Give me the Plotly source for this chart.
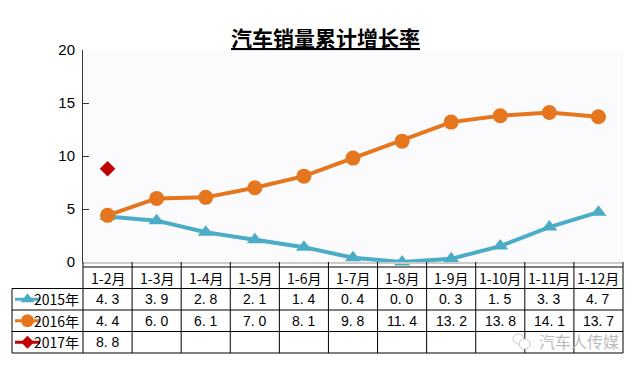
import plotly.graph_objects as go

categories = ["1-2月", "1-3月", "1-4月", "1-5月", "1-6月", "1-7月", "1-8月", "1-9月", "1-10月", "1-11月", "1-12月"]
series_names = ["2015年", "2016年", "2017年"]
s2015 = [4.3, 3.9, 2.8, 2.1, 1.4, 0.4, 0.0, 0.3, 1.5, 3.3, 4.7]
s2016 = [4.4, 6.0, 6.1, 7.0, 8.1, 9.8, 11.4, 13.2, 13.8, 14.1, 13.7]
s2017 = [8.8]
y_ticks = [0, 5, 10, 15, 20]
title = "汽车销量累计增长率"
watermark = "汽车人传媒"

W, H = 640, 369
PX_L, PX_R = 83, 623
PX_TOP, PX_ZERO = 50, 262
TAB_TOP, ROW_H = 267, 21.5
LEG_L = 12

colors = ["#4BACC6", "#E5761E", "#C00000"]
symbols = ["triangle-up", "circle", "diamond"]
msizes = [14, 15, 12]
all_series = [s2015, s2016, s2017]

fig = go.Figure()

header_bottom = TAB_TOP + ROW_H
for i, (c, sym, ms) in enumerate(zip(colors, symbols, msizes)):
    yc = header_bottom + ROW_H * (i + 0.5)
    fig.add_trace(go.Scatter(
        x=[15, 40], y=[yc, yc], mode="lines", line=dict(color=c, width=3),
        xaxis="x2", yaxis="y2", showlegend=False, hoverinfo="skip"))
    fig.add_trace(go.Scatter(
        x=[27.5], y=[yc], mode="markers", marker=dict(symbol=sym, size=ms - 2, color=c),
        xaxis="x2", yaxis="y2", showlegend=False, hoverinfo="skip"))

for name, vals, c, sym, ms in zip(series_names, all_series, colors, symbols, msizes):
    fig.add_trace(go.Scatter(
        x=categories[:len(vals)], y=vals, name=name,
        mode="lines+markers" if len(vals) > 1 else "markers",
        line=dict(color=c, width=4),
        marker=dict(symbol=sym, size=ms, color=c),
        showlegend=False, cliponaxis=False,
    ))

n = len(categories)
col_w = (PX_R - PX_L) / n
table_bottom = header_bottom + ROW_H * len(series_names)
shapes = []
shapes.append(dict(type="rect", xref="paper", yref="paper", x0=PX_L / W, x1=PX_R / W,
                   y0=(H - PX_ZERO) / H, y1=(H - PX_TOP) / H,
                   fillcolor="#FBFBFD", line=dict(width=0), layer="below"))
line_style = dict(color="#000000", width=1)
shapes.append(dict(type="line", xref="x2", yref="y2", x0=PX_L, x1=PX_R, y0=TAB_TOP, y1=TAB_TOP, line=line_style))
for r in range(len(series_names) + 1):
    yy = header_bottom + ROW_H * r
    shapes.append(dict(type="line", xref="x2", yref="y2", x0=LEG_L, x1=PX_R, y0=yy, y1=yy, line=line_style))
for k in range(n + 1):
    xx = PX_L + col_w * k
    shapes.append(dict(type="line", xref="x2", yref="y2", x0=xx, x1=xx, y0=PX_ZERO, y1=table_bottom, line=line_style))
shapes.append(dict(type="line", xref="x2", yref="y2", x0=LEG_L, x1=LEG_L, y0=header_bottom, y1=table_bottom, line=line_style))
# watermark icon (two small speech bubbles)
shapes.append(dict(type="circle", xref="x2", yref="y2", x0=513, x1=524, y0=334, y1=344,
                   line=dict(color="#C8C8C8", width=1)))
shapes.append(dict(type="circle", xref="x2", yref="y2", x0=519, x1=530, y0=339, y1=349,
                   line=dict(color="#C8C8C8", width=1), fillcolor="white"))

annotations = []
annotations.append(dict(text="<b><u>" + title + "</u></b>", xref="x2", yref="y2", x=325, y=37,
                        showarrow=False, font=dict(family="Noto Sans CJK SC", size=21, color="#000000")))
for k, cat in enumerate(categories):
    annotations.append(dict(text=cat, xref="x2", yref="y2", x=PX_L + col_w * (k + 0.5),
                            y=TAB_TOP + ROW_H / 2, showarrow=False,
                            font=dict(family="Noto Sans CJK SC", size=14, color="#000000")))
for i, (name, vals) in enumerate(zip(series_names, all_series)):
    yc = header_bottom + ROW_H * (i + 0.5)
    annotations.append(dict(text=name, xref="x2", yref="y2", x=81, y=yc, xanchor="right",
                            showarrow=False, font=dict(family="Noto Sans CJK SC", size=14, color="#000000")))
    for k, v in enumerate(vals):
        annotations.append(dict(text=f"{v:.1f}".replace(".", ". "), xref="x2", yref="y2",
                                x=PX_L + col_w * (k + 0.5), y=yc, showarrow=False,
                                font=dict(family="Liberation Sans", size=14, color="#000000")))
annotations.append(dict(text=watermark, xref="x2", yref="y2", x=621, y=341, xanchor="right",
                        showarrow=False, font=dict(family="Noto Sans CJK SC", size=16, color="#BBBBBB")))

fig.update_layout(
    width=W, height=H, margin=dict(l=0, r=0, t=0, b=0, pad=0, autoexpand=False), autosize=False,
    paper_bgcolor="white", plot_bgcolor="rgba(0,0,0,0)", showlegend=False,
    xaxis=dict(domain=[PX_L / W, PX_R / W], type="category", range=[-0.5, n - 0.5],
               showticklabels=False, showgrid=False, zeroline=False,
               showline=True, linecolor="#CCCCCC", linewidth=2, ticks=""),
    yaxis=dict(domain=[(H - PX_ZERO) / H, (H - PX_TOP) / H], range=[0, 20],
               tickvals=y_ticks, showgrid=False, zeroline=False,
               showline=True, linecolor="#333333", linewidth=1,
               ticks="inside", ticklen=6, tickcolor="#333333",
               tickfont=dict(family="Liberation Sans", size=15, color="#000000"), ticklabelstandoff=4),
    xaxis2=dict(domain=[0, 1], range=[0, W], visible=False, fixedrange=True, anchor="y2"),
    yaxis2=dict(domain=[0, 1], range=[H, 0], visible=False, fixedrange=True, anchor="x2"),
    shapes=shapes, annotations=annotations,
)
fig.write_html("out.html", config={"displayModeBar": False},
               post_script="document.body.style.margin='0';")
